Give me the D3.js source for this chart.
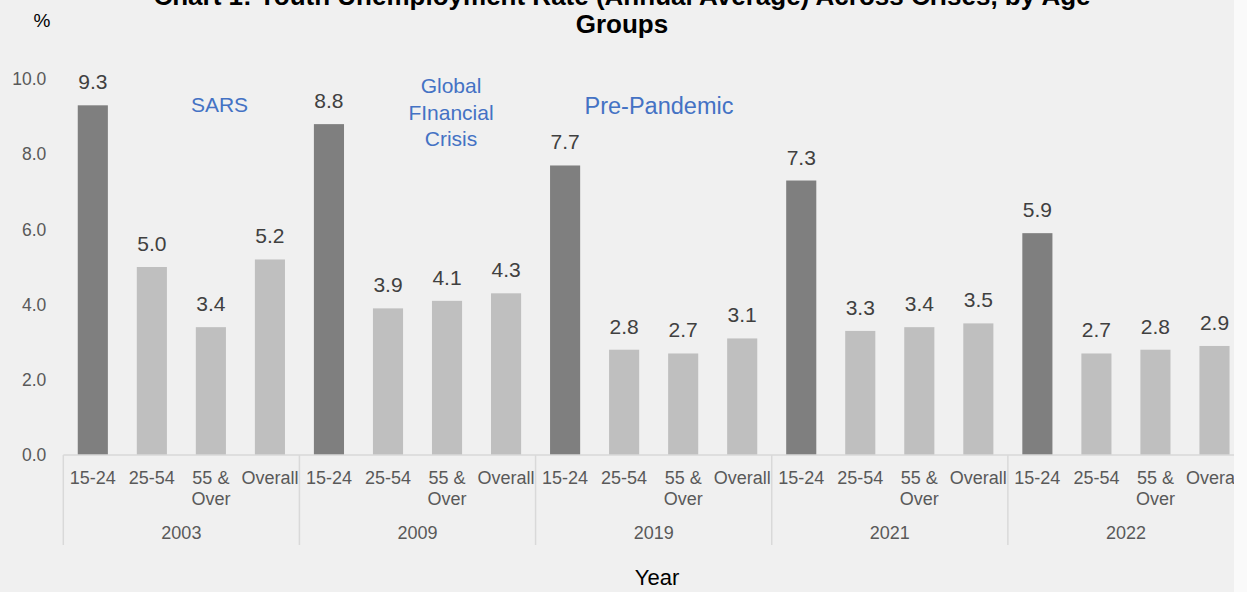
<!DOCTYPE html>
<html>
<head>
<meta charset="utf-8">
<script src="https://cdn.jsdelivr.net/npm/d3@7"></script>
<style>
  html, body { margin: 0; padding: 0; background: #fafafa; }
  svg { display: block; overflow: hidden; }
  text { font-family: "Liberation Sans", Arial, sans-serif; }
</style>
</head>
<body>
<svg id="chart" width="1234" height="592"></svg>
<script>
// Unemployment rate (%) by age group, for each year
const years = ["2003", "2009", "2019", "2021", "2022"];
const ageGroups = ["15-24", "25-54", "55 & Over", "Overall"];
const rate2003 = [9.3, 5.0, 3.4, 5.2];
const rate2009 = [8.8, 3.9, 4.1, 4.3];
const rate2019 = [7.7, 2.8, 2.7, 3.1];
const rate2021 = [7.3, 3.3, 3.4, 3.5];
const rate2022 = [5.9, 2.7, 2.8, 2.9];
const yTicks = [0, 2, 4, 6, 8, 10];

const rates = [rate2003, rate2009, rate2019, rate2021, rate2022];
const rows = [];
years.forEach((yr, i) => ageGroups.forEach((g, j) => rows.push({ year: yr, group: g, value: rates[i][j] })));

const svg = d3.select("#chart");
svg.append("rect").attr("width", 1234).attr("height", 592).attr("fill", "#f0f0f0");

const left = 63.3, right = 1244, baseY = 455, topY = 79;

const x0 = d3.scaleBand().domain(years).range([left, right]).padding(0);
const x1 = d3.scaleBand().domain(ageGroups).range([0, x0.bandwidth()])
  .paddingInner(0.49).paddingOuter(0.245);
const y = d3.scaleLinear().domain([0, 10]).range([baseY, topY]);

// Title
const title = svg.append("text").attr("x", 622).attr("text-anchor", "middle")
  .attr("font-weight", "bold").attr("font-size", 26).attr("fill", "#000");
title.append("tspan").attr("x", 622).attr("y", 5)
  .text("Chart 1: Youth Unemployment Rate (Annual Average) Across Crises, by Age");
title.append("tspan").attr("x", 622).attr("y", 33).text("Groups");

// Unit label
svg.append("text").attr("x", 42).attr("y", 27).attr("text-anchor", "middle")
  .attr("font-size", 19).attr("fill", "#000").text("%");

// Y axis
const yAxis = svg.append("g").attr("transform", `translate(${left},0)`)
  .call(d3.axisLeft(y).tickValues(yTicks).tickFormat(d3.format(".1f")).tickSize(0).tickPadding(17));
yAxis.select(".domain").remove();
yAxis.selectAll("text").attr("font-size", 17.5).attr("fill", "#595959")
  .attr("font-family", "Liberation Sans, Arial, sans-serif");

// Bars
const bars = svg.append("g");
bars.selectAll("rect").data(rows).join("rect")
  .attr("x", d => x0(d.year) + x1(d.group))
  .attr("y", d => y(d.value))
  .attr("width", x1.bandwidth())
  .attr("height", d => y(0) - y(d.value))
  .attr("fill", d => d.group === "15-24" ? "#7f7f7f" : "#bfbfbf");

// Value labels
svg.append("g").selectAll("text").data(rows).join("text")
  .attr("x", d => x0(d.year) + x1(d.group) + x1.bandwidth() / 2)
  .attr("y", d => y(d.value) - 16)
  .attr("text-anchor", "middle").attr("font-size", 21).attr("fill", "#404040")
  .text(d => d3.format(".1f")(d.value));

// Category axis baseline
svg.append("line").attr("x1", left).attr("x2", right).attr("y1", baseY).attr("y2", baseY)
  .attr("stroke", "#d9d9d9").attr("stroke-width", 1.5);

// Group dividers
const edges = years.map(yr => x0(yr)).concat([x0(years[years.length - 1]) + x0.bandwidth()]);
svg.append("g").selectAll("line").data(edges).join("line")
  .attr("x1", d => d).attr("x2", d => d).attr("y1", baseY).attr("y2", 545)
  .attr("stroke", "#d9d9d9").attr("stroke-width", 1.5);

// Age-group labels (wrapped)
const catG = svg.append("g");
rows.forEach(d => {
  const cx = x0(d.year) + x1(d.group) + x1.bandwidth() / 2;
  const lines = d.group === "55 & Over" ? ["55 &", "Over"] : [d.group];
  const t = catG.append("text").attr("text-anchor", "middle").attr("font-size", 18).attr("fill", "#595959");
  lines.forEach((ln, k) => t.append("tspan").attr("x", cx).attr("y", 484 + k * 21).text(ln));
});

// Year labels
svg.append("g").selectAll("text").data(years).join("text")
  .attr("x", d => x0(d) + x0.bandwidth() / 2).attr("y", 539)
  .attr("text-anchor", "middle").attr("font-size", 18).attr("fill", "#595959")
  .text(d => d);

// Axis title
svg.append("text").attr("x", 657).attr("y", 585).attr("text-anchor", "middle")
  .attr("font-size", 22).attr("fill", "#000").text("Year");

// Crisis annotations
const blue = "#4472c4";
svg.append("text").attr("x", 219.5).attr("y", 112).attr("text-anchor", "middle")
  .attr("font-size", 21).attr("fill", blue).text("SARS");
const gfc = svg.append("text").attr("text-anchor", "middle").attr("font-size", 21).attr("fill", blue);
["Global", "FInancial", "Crisis"].forEach((ln, k) =>
  gfc.append("tspan").attr("x", 451).attr("y", 93 + k * 26.5).text(ln));
svg.append("text").attr("x", 659).attr("y", 114).attr("text-anchor", "middle")
  .attr("font-size", 23.5).attr("fill", blue).text("Pre-Pandemic");
</script>
</body>
</html>
